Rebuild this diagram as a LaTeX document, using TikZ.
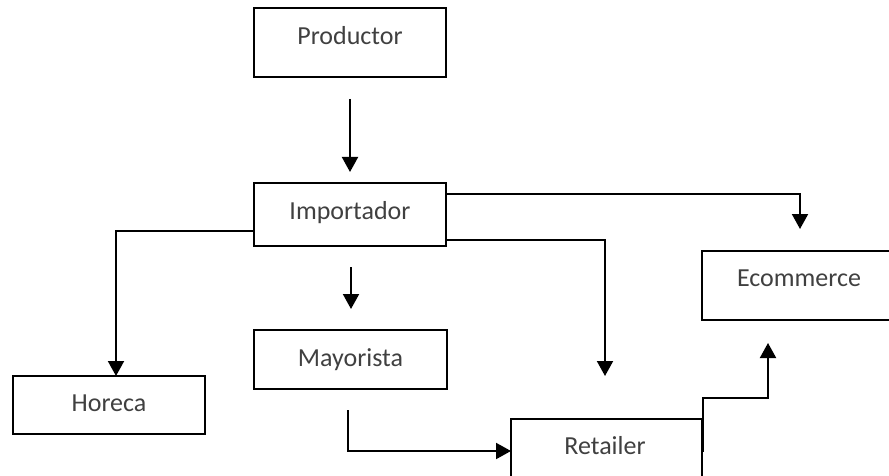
\documentclass[tikz,border=0pt]{standalone}
\usepackage{fontspec}
\setmainfont{Carlito}
\usetikzlibrary{arrows.meta}
\definecolor{txtgray}{HTML}{404040}
\begin{document}
\begin{tikzpicture}[x=1pt,y=-1pt,
  box/.style={draw=black,line width=2pt,rectangle,inner sep=0pt,outer sep=0pt},
  lbl/.style={anchor=base,text=txtgray,inner sep=0pt,font=\fontsize{26}{31}\selectfont},
  conn/.style={draw=black,line width=2pt,-{Triangle[length=15pt,width=16pt]}},
  plain/.style={draw=black,line width=2pt}]
\useasboundingbox (0,0) rectangle (889,476);
\clip (0,0) rectangle (889,476);
% boxes
\node[box,minimum width=192pt,minimum height=69pt] (prod) at (350,42.5) {};
\node[box,minimum width=192pt,minimum height=63pt] (imp) at (350,214.5) {};
\node[box,minimum width=192pt,minimum height=58pt] (hor) at (109,405) {};
\node[box,minimum width=193pt,minimum height=59pt] (may) at (350.5,359.5) {};
\node[box,minimum width=191pt,minimum height=61pt] (ret) at (606.5,449.5) {};
\node[box,minimum width=198pt,minimum height=69pt] (eco) at (801,285.5) {};
% labels
\node[lbl] (prodt) at (350,45) {Productor};
\node[lbl] (impt) at (350,219) {Importador};
\node[lbl] (hort) at (109,411.5) {Horeca};
\node[lbl] (mayt) at (350.5,366.5) {Mayorista};
\node[lbl] (rett) at (605,454) {Retailer};
\node[lbl] (ecot) at (799,286.5) {Ecommerce};
% free ends
\coordinate (p1s) at (350,99);
\coordinate (p1e) at (350,172);
\coordinate (m1s) at (351,267);
\coordinate (m1e) at (351,309);
\coordinate (e1e) at (800,229);
\coordinate (r1e) at (605,376);
\coordinate (ms) at (348,410);
\coordinate (rs) at (703,452);
\coordinate (ee) at (768,343);
% connectors
\draw[conn] (p1s) -- (p1e);
\draw[conn] (m1s) -- (m1e);
\draw[conn] (imp.west |- 0,231) -| (hor.north -| 116,0);
\draw[conn] (imp.east |- 0,194) -| (e1e);
\draw[conn] (imp.east |- 0,240) -| (r1e);
\draw[conn] (ms) |- (ret.west |- 0,451);
\draw[conn] (rs) -- (703,398) -| (ee);
\end{tikzpicture}
\end{document}
